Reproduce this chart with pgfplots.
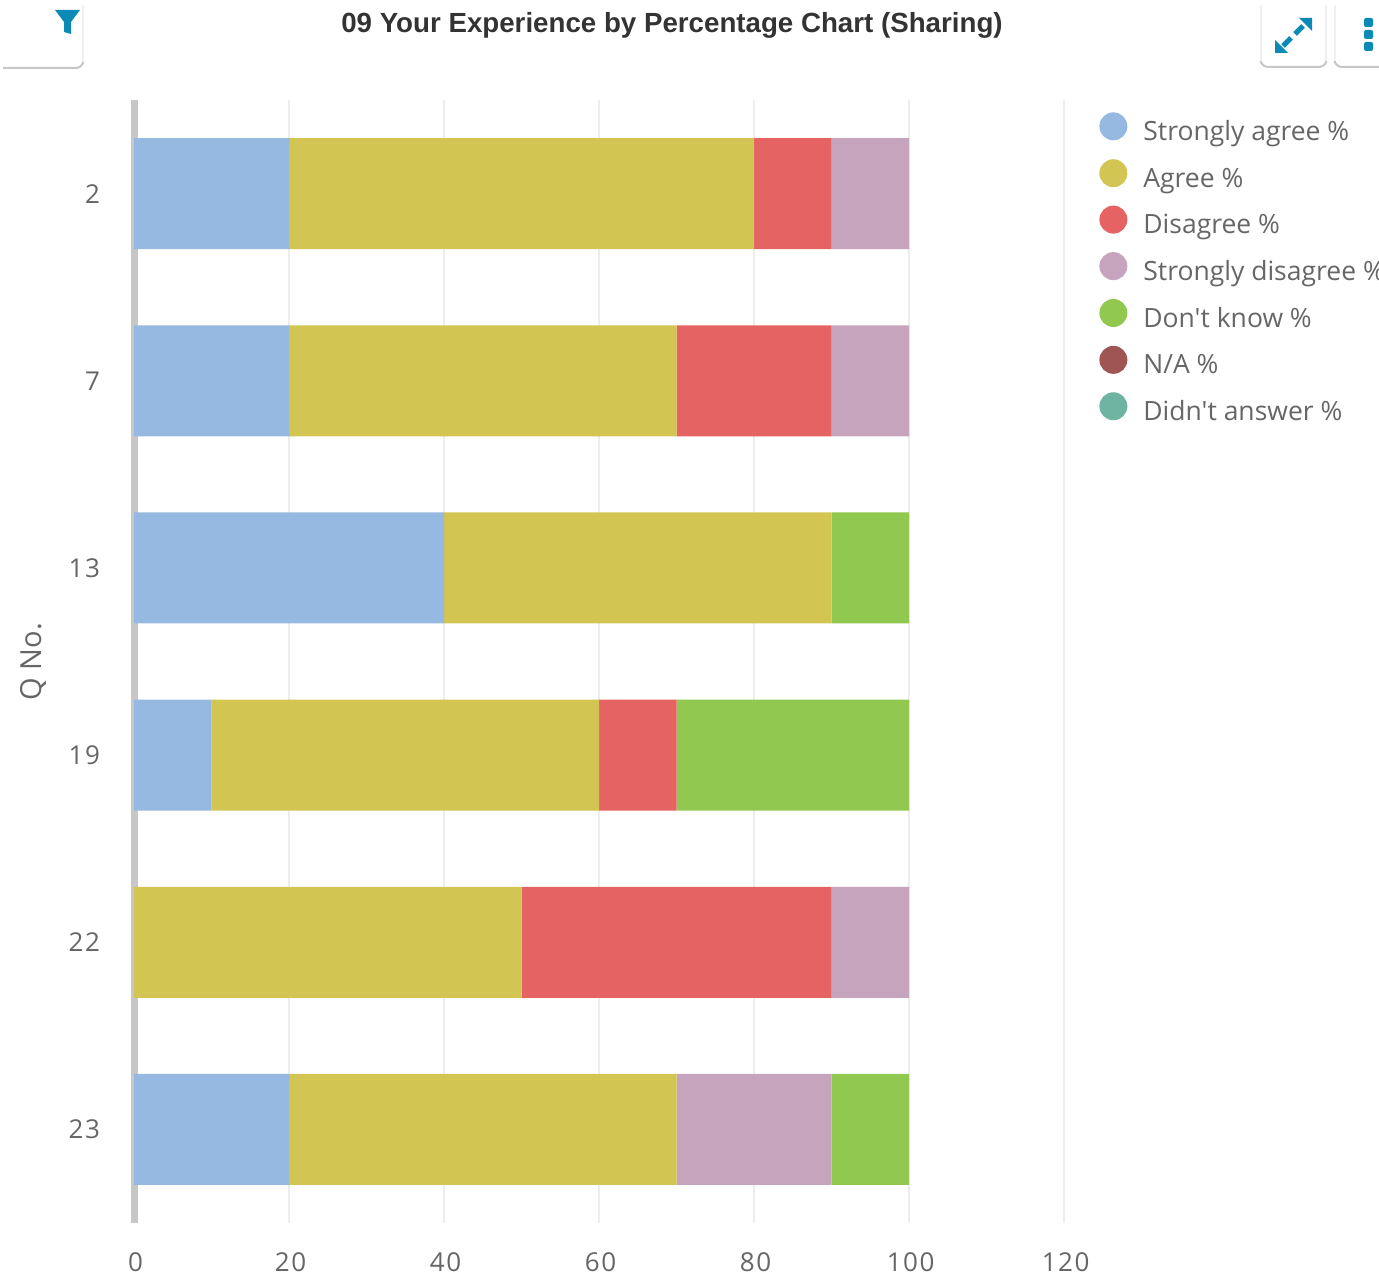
\documentclass[border=0pt]{standalone}
\usepackage{fontspec}
\usepackage{pgfplots}
\pgfplotsset{compat=1.18}
\setmainfont{Open Sans}
\newfontfamily\legendfont{Open Sans}
\newfontfamily\titlefont{Liberation Sans}
\newfontfamily\tickfont[LetterSpace=6]{Open Sans}
\definecolor{sagree}{HTML}{95B9E1}
\definecolor{agree}{HTML}{D3C552}
\definecolor{disagree}{HTML}{E66363}
\definecolor{sdisagree}{HTML}{C7A4BD}
\definecolor{dontknow}{HTML}{90C850}
\definecolor{na}{HTML}{A05555}
\definecolor{noanswer}{HTML}{6FB3A3}
\definecolor{icon}{HTML}{0A8AB5}
\definecolor{labelgray}{HTML}{666666}
\pgfplotstableread{
row sa a d sd dk na da
0 20 60 10 10 0 0 0
1 20 50 20 10 0 0 0
2 40 50 0 0 10 0 0
3 10 50 10 0 30 0 0
4 0 50 40 10 0 0 0
5 20 50 0 20 10 0 0
}\sharing
\pgfplotsset{
  dot/.style={
    fill=#1, draw=none,
    legend image code/.code={\fill[#1] (0pt,3pt) circle (7pt); \path (13pt,3pt);},
  },
}
\begin{document}
\begin{tikzpicture}
\path[use as bounding box] (0,0) rectangle (689.5pt,637.5pt);
\begin{axis}[
    at={(67pt,26pt)}, anchor=south west,
    scale only axis,
    width=465pt, height=561.5pt,
    xbar stacked,
    bar width=55.5pt,
    y dir=reverse,
    xmin=0, xmax=120,
    ymin=-0.5, ymax=5.5,
    xtick={0,20,...,120},
    ytick={0,...,5},
    yticklabels={2,7,13,19,22,23},
    /pgf/number format/assume math mode=true,
    tick style={draw=none},
    xmajorgrids, ymajorgrids=false,
    grid style={color=black!7, line width=0.7pt},
    axis x line*=bottom,
    axis y line*=left,
    axis line style={-},
    x axis line style={draw=none},
    y axis line style={line width=3.5pt, color=black!22},
    every tick label/.append style={font=\tickfont\fontsize{13}{15}\selectfont, text=labelgray},
    xticklabel style={yshift=-11.5pt, xshift=0.8pt},
    yticklabel style={xshift=-13.5pt},
    ylabel={Q No.},
    ylabel style={font=\fontsize{14.5}{16}\selectfont, text=labelgray, yshift=4pt},
    legend cell align=left,
    legend style={
      at={(1.0376,0.9894)}, anchor=north west,
      draw=none, fill=none,
      font=\legendfont\fontsize{13.25}{15}\selectfont, text=labelgray,
      row sep=5.65pt,
      inner sep=0pt,
    },
]
\addplot[dot=sagree] table[x=sa,y=row] {\sharing};
\addplot[dot=agree] table[x=a,y=row] {\sharing};
\addplot[dot=disagree] table[x=d,y=row] {\sharing};
\addplot[dot=sdisagree] table[x=sd,y=row] {\sharing};
\addplot[dot=dontknow] table[x=dk,y=row] {\sharing};
\addplot[dot=na] table[x=na,y=row] {\sharing};
\addplot[dot=noanswer] table[x=da,y=row] {\sharing};
\legend{Strongly agree \%,Agree \%,Disagree \%,Strongly disagree \%,Don't know \%,N/A \%,Didn't answer \%}
\end{axis}
% title and dashboard buttons, in reference pixels
\begin{scope}[x=0.5pt,y=-0.5pt,yshift=637.5pt]
\node[font=\titlefont\bfseries\fontsize{13.85}{16}\selectfont, text=black!80] at (672,25) {09 Your Experience by Percentage Chart (Sharing)};
\fill[icon] (55,10) -- (80,10) -- (71,22) -- (71,34) -- (64,32) -- (64,22) -- cycle;
\draw[black!6, line width=0.8pt] (83,5) -- (83,64);
\draw[black!22, line width=1pt, rounded corners=3pt] (3,68) -- (82,68) -- (83,63);
\draw[black!6, line width=0.8pt] (1261,5) -- (1261,63);
\draw[black!6, line width=0.8pt] (1326,5) -- (1326,63);
\draw[black!22, line width=1pt, rounded corners=3pt] (1261,63) -- (1262,67) -- (1325,67) -- (1326,63);
\draw[black!6, line width=0.8pt] (1335,5) -- (1335,63);
\draw[black!22, line width=1pt, rounded corners=3pt] (1335,63) -- (1336,67) -- (1379,67);
\fill[icon] (1299,18) -- (1312,18) -- (1312,31) -- cycle;
\fill[icon] (1275,53) -- (1275,40) -- (1288,53) -- cycle;
\draw[icon, line width=2.5pt] (1303,26) -- (1295,34);
\draw[icon, line width=2.5pt] (1291,38) -- (1283,46);
\fill[icon, rounded corners=1pt] (1364,18) rectangle (1373,27);
\fill[icon, rounded corners=1pt] (1364,30) rectangle (1373,39);
\fill[icon, rounded corners=1pt] (1364,42) rectangle (1373,51);
\end{scope}
\end{tikzpicture}
\end{document}
